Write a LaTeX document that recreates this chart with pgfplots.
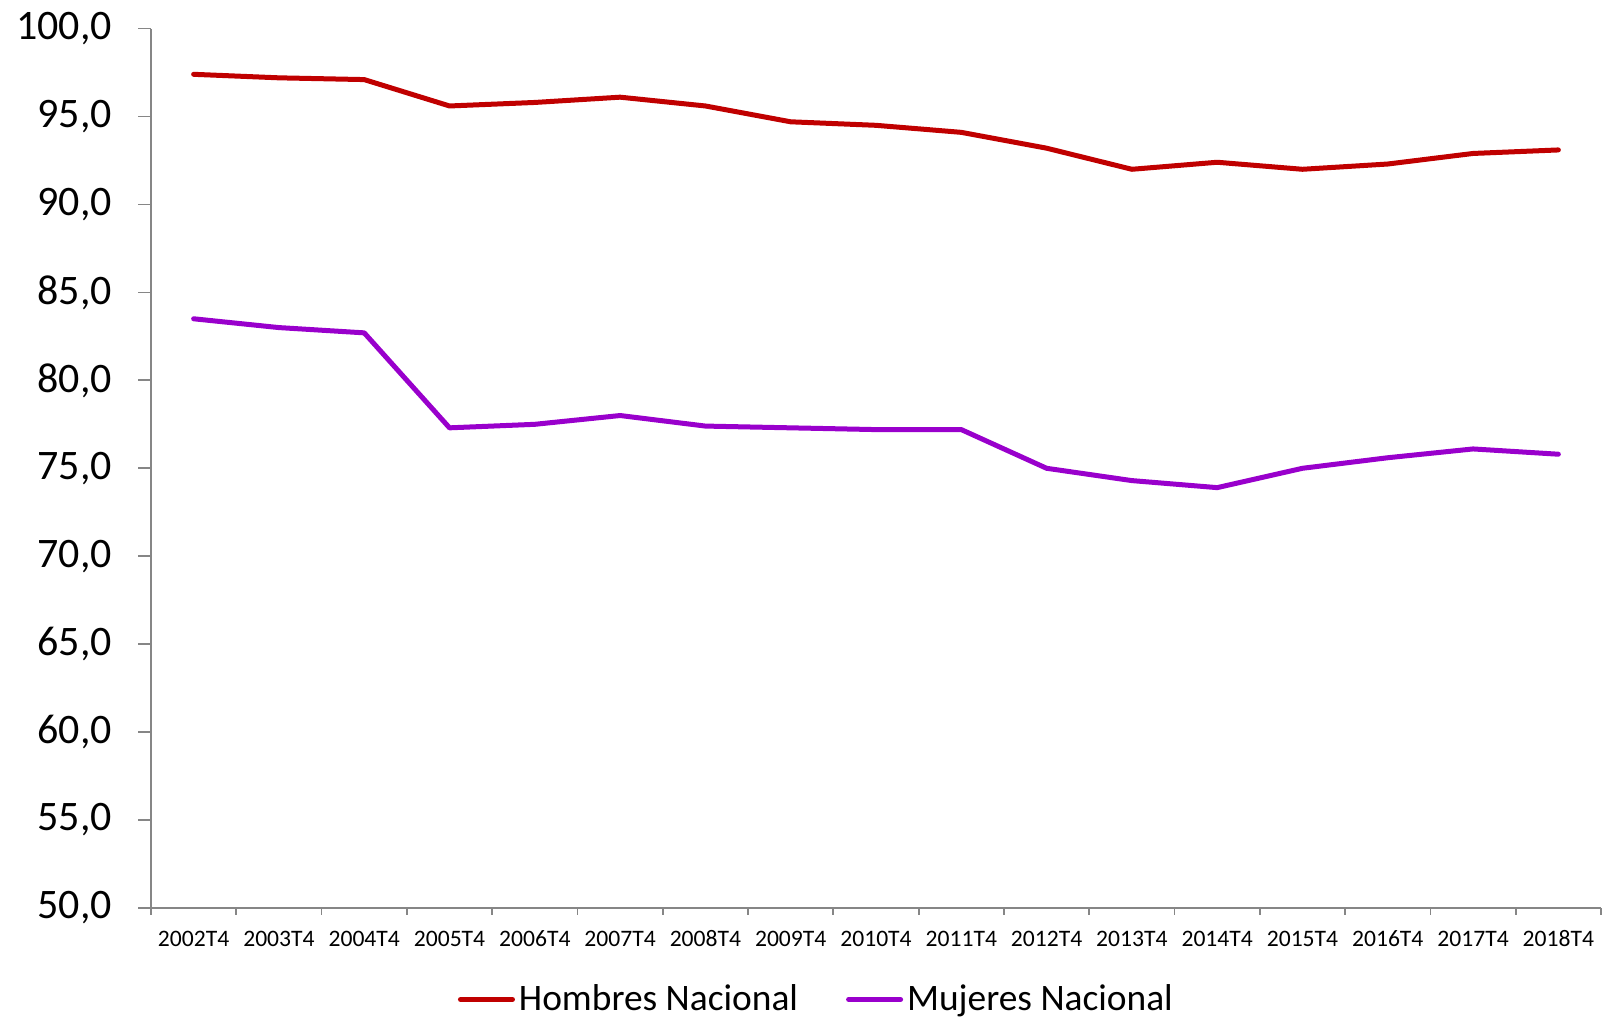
\documentclass[border=0pt]{standalone}
\usepackage{pgfplots}
\pgfplotsset{compat=1.18}
\usetikzlibrary{calc}
\usepackage{fontspec}
\setmainfont{Carlito}
\definecolor{hred}{HTML}{C00000}
\definecolor{mpurp}{HTML}{9900CC}
\definecolor{axgray}{HTML}{868686}
\begin{document}
\begin{tikzpicture}
\begin{axis}[
  name=ax,
  scale only axis,
  width=725pt, height=439.7pt,
  xmin=-0.5, xmax=16.5,
  ymin=50, ymax=100,
  ytick={50,55,...,100},
  xtick={0,...,16},
  xticklabels={2002T4,2003T4,2004T4,2005T4,2006T4,2007T4,2008T4,2009T4,2010T4,2011T4,2012T4,2013T4,2014T4,2015T4,2016T4,2017T4,2018T4},
  minor xtick={-0.5,0.5,...,16.5},
  major tick length=0pt,
  minor tick length=3.5pt,
  ytick style={draw=axgray, line width=0.9pt},
  xtick style={draw=axgray, line width=0.9pt},
  minor tick style={draw=axgray, line width=0.9pt},
  tick align=outside,
  axis x line*=bottom,
  axis y line*=left,
  axis line style={draw=axgray, line width=0.9pt, -},
  yticklabel={\pgfmathprintnumber[fixed,fixed zerofill,precision=1,use comma]{\tick}},
  /pgf/number format/assume math mode=true,
  yticklabel style={font=\fontsize{21}{25}\selectfont, xshift=-16pt},
  xticklabel style={font=\fontsize{11.8}{14}\selectfont, yshift=-7pt, text height=8.5pt, text depth=0pt},
  legend style={draw=none, font=\fontsize{18.7}{22}\selectfont, at={(rel axis cs:0.4596,-0.104)}, anchor=center, legend columns=2, /tikz/every even column/.append style={column sep=22pt}},
  legend image code/.code={\draw[#1, line cap=round] (0pt,0pt) -- (26pt,0pt);},
  clip=false,
]
\addplot[hred, line width=2.5pt, line join=round, line cap=round] coordinates {
(0,97.4) (1,97.2) (2,97.1) (3,95.6) (4,95.8) (5,96.1) (6,95.6) (7,94.7) (8,94.5) (9,94.1) (10,93.2) (11,92.0) (12,92.4) (13,92.0) (14,92.3) (15,92.9) (16,93.1)};
\addlegendentry{Hombres Nacional}
\addplot[mpurp, line width=2.5pt, line join=round, line cap=round] coordinates {
(0,83.5) (1,83.0) (2,82.7) (3,77.3) (4,77.5) (5,78.0) (6,77.4) (7,77.3) (8,77.2) (9,77.2) (10,75.0) (11,74.3) (12,73.9) (13,75.0) (14,75.6) (15,76.1) (16,75.8)};
\addlegendentry{Mujeres Nacional}
\coordinate (sw) at (rel axis cs:0,0);
\coordinate (ne) at (rel axis cs:1,1);
\end{axis}
\foreach \v in {0,...,10} {
  \draw[axgray, line width=0.9pt] ($(sw)+(0,\v*43.97pt)$) -- ++(-6.5pt,0);
}
\pgfresetboundingbox
\path[use as bounding box] ($(sw)+(-75.5pt,-55.5pt)$) rectangle ($(ne)+(1pt,14.3pt)$);
\end{tikzpicture}
\end{document}
